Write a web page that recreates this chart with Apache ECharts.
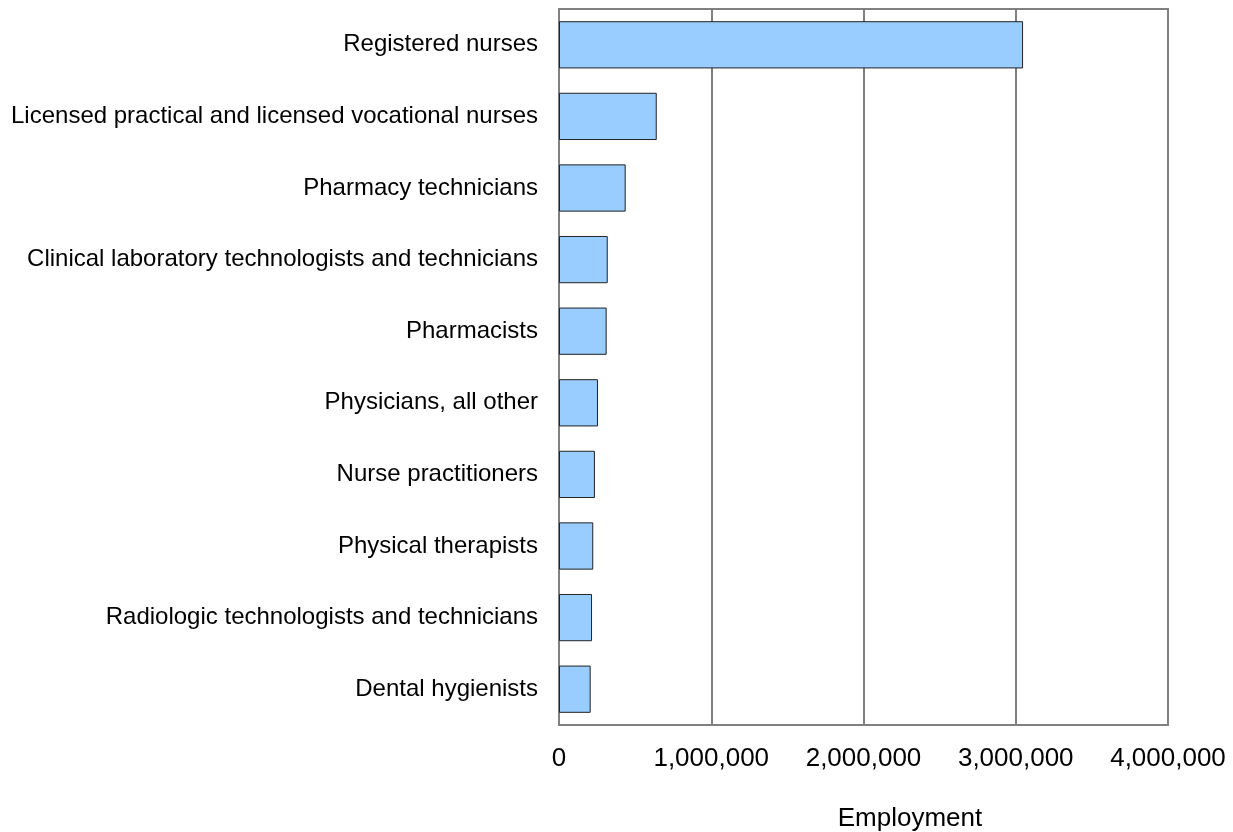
<!DOCTYPE html>
<html>
<head>
<meta charset="utf-8">
<script src="https://cdn.jsdelivr.net/npm/echarts@6/dist/echarts.min.js"></script>
<style>html,body{margin:0;padding:0;background:#fff;}#c{width:1233px;height:832px;}</style>
</head>
<body>
<div id="c"></div>
<script>
const categories = [
  "Registered nurses",
  "Licensed practical and licensed vocational nurses",
  "Pharmacy technicians",
  "Clinical laboratory technologists and technicians",
  "Pharmacists",
  "Physicians, all other",
  "Nurse practitioners",
  "Physical therapists",
  "Radiologic technologists and technicians",
  "Dental hygienists"
];
const employment = [3048000, 642000, 438000, 320000, 313000, 256000, 236000, 225000, 217000, 208000];
const xTicks = [0, 1000000, 2000000, 3000000, 4000000];
const xTitle = "Employment";

const chart = echarts.init(document.getElementById('c'));
const font = "'Liberation Sans', Arial, sans-serif";
chart.setOption({
  animation: false,
  backgroundColor: '#ffffff',
  grid: {left: 559, top: 9, width: 609, height: 716, show: true, borderColor: '#808080', borderWidth: 2, containLabel: false},
  xAxis: {
    type: 'value', min: xTicks[0], max: xTicks[xTicks.length - 1], interval: 1000000,
    axisLine: {show: true, lineStyle: {color: '#808080', width: 2}},
    axisTick: {show: false},
    splitLine: {show: true, lineStyle: {color: '#808080', width: 2}},
    axisLabel: {color: '#000', fontFamily: font, fontSize: 26, margin: 21,
      formatter: v => v.toLocaleString('en-US')}
  },
  yAxis: {
    type: 'category', data: categories, inverse: true,
    axisLine: {show: true, lineStyle: {color: '#808080', width: 2}},
    axisTick: {show: false},
    axisLabel: {color: '#000', fontFamily: font, fontSize: 24, margin: 21}
  },
  series: [{
    type: 'bar', data: employment, barCategoryGap: '34%',
    itemStyle: {color: '#99ccff', borderColor: '#222', borderWidth: 1}
  }],
  graphic: [{
    type: 'text', x: 910, y: 819,
    style: {text: xTitle, font: "26px 'Liberation Sans', Arial, sans-serif", fill: '#000', textAlign: 'center', textVerticalAlign: 'middle'}
  }]
});
</script>
</body>
</html>
